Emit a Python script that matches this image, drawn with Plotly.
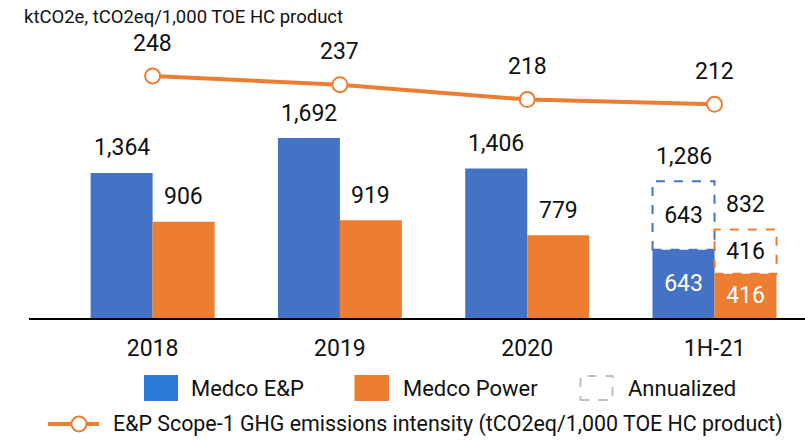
import plotly.graph_objects as go

# data
categories = ["2018", "2019", "2020", "1H-21"]
medco_ep = [1364, 1692, 1406, 643]
medco_power = [906, 919, 779, 416]
ep_annualized = [None, None, None, 643]
power_annualized = [None, None, None, 416]
intensity = [248, 237, 218, 212]

BLUE = "#4472C4"
ORANGE = "#ED7D31"
FONT = "Roboto"
TXT = "#111111"

x = list(range(len(categories)))
w = 0.331

# plot area in pixels: x 29..805, y 0..318
def px(v):
    return (v - 29) / 776

def py(v):
    return (318 - v) / 318

fig = go.Figure()

fig.add_trace(go.Bar(
    x=x, y=medco_ep, width=w, offset=-w, marker=dict(color=BLUE, line_width=0),
    text=[None, None, None, f"{medco_ep[3]:,}"], textposition="inside",
    insidetextanchor="middle", textfont=dict(color="white", size=23, family=FONT),
    name="Medco E&P", showlegend=False))
fig.add_trace(go.Bar(
    x=x, y=medco_power, width=w, offset=0, marker=dict(color=ORANGE, line_width=0),
    text=[None, None, None, f"{medco_power[3]:,}"], textposition="inside",
    insidetextanchor="middle", textfont=dict(color="white", size=23, family=FONT),
    name="Medco Power", showlegend=False))

# annualized parts (transparent, dashed outline added as shapes)
for vals, base, off, col in [(ep_annualized, medco_ep, -w, BLUE), (power_annualized, medco_power, 0, ORANGE)]:
    fig.add_trace(go.Bar(
        x=x, y=vals, base=base, width=w, offset=off,
        marker=dict(color="rgba(0,0,0,0)", line_width=0),
        text=[f"{v:,}" if v else None for v in vals], textposition="inside",
        insidetextanchor="middle", textfont=dict(color=TXT, size=23, family=FONT),
        showlegend=False))
    for i, v in enumerate(vals):
        if v:
            fig.add_shape(type="rect", xref="x", yref="y", x0=i + off, x1=i + off + w,
                          y0=base[i], y1=base[i] + v, layer="above",
                          line=dict(color=col, width=2, dash="dash"))

# labels above bars
for vals, ann, off in [(medco_ep, ep_annualized, -w / 2), (medco_power, power_annualized, w / 2)]:
    for i, v in enumerate(vals):
        top = v + (ann[i] or 0)
        fig.add_annotation(x=i + off, y=top, xref="x", yref="y", text=f"{top:,}",
                           showarrow=False, yanchor="middle", yshift=25,
                           font=dict(size=23, color=TXT, family=FONT))

fig.add_trace(go.Scatter(
    x=x, y=intensity, yaxis="y2", mode="lines+markers",
    line=dict(color=ORANGE, width=4),
    marker=dict(symbol="circle", size=15, color="white", line=dict(color=ORANGE, width=2)),
    showlegend=False))
for i, v in enumerate(intensity):
    fig.add_annotation(x=i, y=v, xref="x", yref="y2", text=str(v), showarrow=False,
                       yanchor="middle", yshift=33, font=dict(size=23, color=TXT, family=FONT))

# title
fig.add_annotation(x=px(22), y=py(16.5), xref="paper", yref="paper", xanchor="left",
                   yanchor="middle", text="ktCO2e, tCO2eq/1,000 TOE HC product",
                   showarrow=False, font=dict(size=18.5, color=TXT, family=FONT))

# custom legend
legend_row1 = [("Medco E&P", "#2A7BD5", 144, 178, 189),
               ("Medco Power", ORANGE, 354.5, 389, 401)]
for name, col, a, b, t in legend_row1:
    fig.add_shape(type="rect", xref="paper", yref="paper", x0=px(a), x1=px(b),
                  y0=py(401), y1=py(375), fillcolor=col, line_width=0)
    fig.add_annotation(x=px(t), y=py(388), xref="paper", yref="paper", xanchor="left",
                       yanchor="middle", text=name, showarrow=False,
                       font=dict(size=22, color=TXT, family=FONT))
fig.add_shape(type="rect", xref="paper", yref="paper", x0=px(580.5), x1=px(612.5),
              y0=py(400), y1=py(376), line=dict(color="#BFBFBF", width=2, dash="dash"))
fig.add_annotation(x=px(626), y=py(388), xref="paper", yref="paper", xanchor="left",
                   yanchor="middle", text="Annualized", showarrow=False,
                   font=dict(size=22, color=TXT, family=FONT))

fig.add_shape(type="line", xref="paper", yref="paper", x0=px(48), x1=px(99),
              y0=py(424), y1=py(424), line=dict(color=ORANGE, width=4))
fig.add_shape(type="circle", xref="paper", yref="paper", x0=px(71.5), x1=px(86.5),
              y0=py(431.5), y1=py(416.5), fillcolor="white", line=dict(color=ORANGE, width=2))
fig.add_annotation(x=px(111), y=py(423.5), xref="paper", yref="paper", xanchor="left",
                   yanchor="middle",
                   text="E&P Scope-1 GHG emissions intensity (tCO2eq/1,000 TOE HC product)",
                   showarrow=False, font=dict(size=21.4, color=TXT, family=FONT))

fig.update_layout(
    width=805, height=440,
    margin=dict(l=29, r=0, t=0, b=122),
    paper_bgcolor="white", plot_bgcolor="white",
    barmode="overlay",
    font=dict(family=FONT, color=TXT),
    xaxis=dict(range=[-0.660, 3.483], tickvals=x, ticktext=categories,
               tickfont=dict(size=23, color=TXT, family=FONT), showgrid=False,
               zeroline=False, showline=True, linecolor="black", linewidth=2,
               ticks="", ticklabelstandoff=8),
    yaxis=dict(range=[0, 2991], visible=False, showgrid=False),
    yaxis2=dict(range=[-59.9, 344.7], overlaying="y", visible=False, showgrid=False),
    showlegend=False,
)

fig.write_html("out.html", config={"displayModeBar": False},
               post_script="document.body.style.margin='0';")
